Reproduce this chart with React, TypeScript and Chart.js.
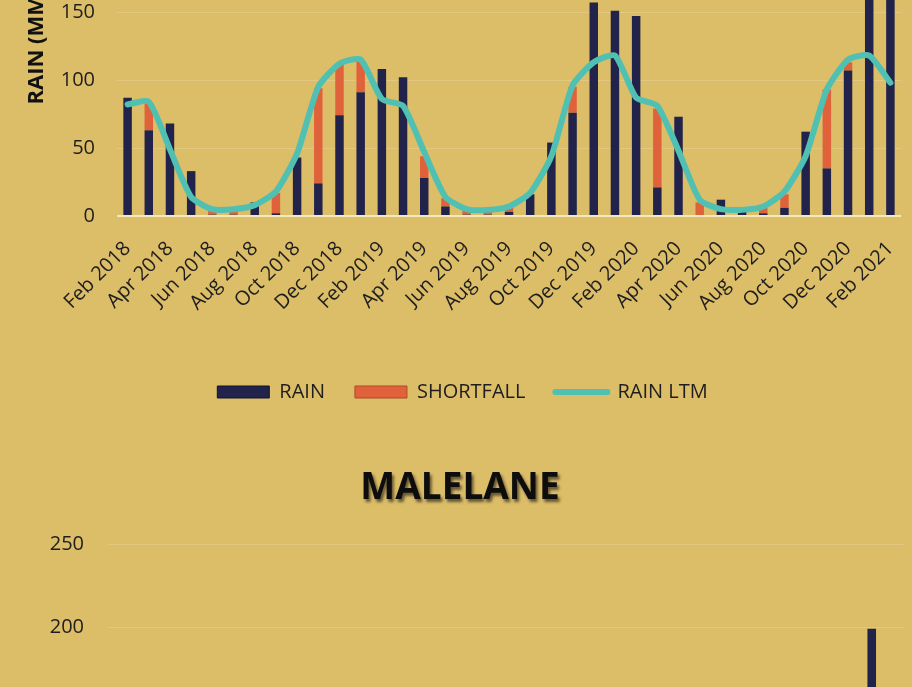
import React, { useEffect, useRef } from 'react';
import { Chart, registerables } from 'chart.js';

Chart.register(...registerables);

// ---------- data ----------
const months = [
  'Feb 2018', 'Mar 2018', 'Apr 2018', 'May 2018', 'Jun 2018', 'Jul 2018', 'Aug 2018', 'Sep 2018', 'Oct 2018', 'Nov 2018', 'Dec 2018',
  'Jan 2019', 'Feb 2019', 'Mar 2019', 'Apr 2019', 'May 2019', 'Jun 2019', 'Jul 2019', 'Aug 2019', 'Sep 2019', 'Oct 2019', 'Nov 2019', 'Dec 2019',
  'Jan 2020', 'Feb 2020', 'Mar 2020', 'Apr 2020', 'May 2020', 'Jun 2020', 'Jul 2020', 'Aug 2020', 'Sep 2020', 'Oct 2020', 'Nov 2020', 'Dec 2020',
  'Jan 2021', 'Feb 2021',
];

const rain = [
  87, 63, 68, 33, 1, 1, 10, 2, 43, 24, 74,
  91, 108, 102, 28, 7, 1, 1, 3, 16, 54, 76, 157,
  151, 147, 21, 73, 0, 12, 3, 2, 6, 62, 35, 107,
  215, 190,
];

const shortfall = [
  0, 20, 0, 0, 3, 3, 0, 15, 0, 70, 38,
  23, 0, 0, 16, 6, 3, 3, 3, 0, 0, 19, 0,
  0, 0, 58, 0, 10, 0, 1, 4, 10, 0, 58, 6,
  0, 0,
];

const rainLtm = [
  82, 84, 49, 14, 5, 5, 8, 18, 46, 95, 112,
  115, 86, 81, 47, 14, 5, 4.5, 7, 17, 44, 96, 113,
  118, 87, 81, 48, 12, 5, 4.5, 7, 18, 44, 93, 115,
  118, 98,
];

// second station: only the January 2021 bar is readable in the visible crop
const malelaneTitle = 'MALELANE';
const malelaneRain = [
  null, null, null, null, null, null, null, null, null, null, null,
  null, null, null, null, null, null, null, null, null, null, null, null,
  null, null, null, null, null, null, null, null, null, null, null, null,
  199, null,
];
const malelaneShortfall = months.map(() => null);
const malelaneLtm = months.map(() => null);

const seriesNames = ['RAIN', 'SHORTFALL', 'RAIN LTM'];
const yAxisTitle = 'RAIN (MM)';

// ---------- styles ----------
const BG = '#dcbd68';
const FONT = '"Open Sans", "DejaVu Sans", sans-serif';
const RAIN_COLOR = '#22234a';
const SHORT_COLOR = '#e0623a';
const LTM_COLOR = '#50c0b3';
const TEXT = '#1e1e1e';

function legendLabels(chart: any) {
  const items = Chart.defaults.plugins.legend.labels.generateLabels(chart);
  items.sort((a: any, b: any) => a.datasetIndex - b.datasetIndex);
  items.forEach((it: any) => {
    const ds: any = chart.data.datasets[it.datasetIndex];
    if (ds.type === 'line') {
      it.pointStyle = 'line';
      it.lineWidth = 6;
      it.strokeStyle = LTM_COLOR;
      it.fillStyle = LTM_COLOR;
      it.lineCap = 'round';
    } else {
      it.pointStyle = 'rect';
      it.lineWidth = 1;
      it.fillStyle = ds.backgroundColor;
      it.strokeStyle = ds.legendBorder;
    }
  });
  return items;
}

const shadowTitle = {
  id: 'shadowTitle',
  afterDraw(chart: any, _args: any, opts: any) {
    if (!opts || !opts.text) return;
    const ctx = chart.ctx;
    ctx.save();
    ctx.font = `bold ${opts.size}px ${FONT}`;
    ctx.textAlign = 'center';
    ctx.textBaseline = 'middle';
    ctx.shadowColor = 'rgba(0,0,0,0.55)';
    ctx.shadowOffsetX = 2;
    ctx.shadowOffsetY = 3;
    ctx.shadowBlur = 3;
    ctx.fillStyle = '#0d0d0d';
    ctx.fillText(opts.text, opts.x, opts.y);
    ctx.restore();
  },
};

function makeConfig(p: {
  rainData: any[]; shortData: any[]; ltmData: any[];
  padTop: number; padLeft: number; padRight: number; padBottom: number;
  yWidth: number; yTickPad: number; xHeight: number; title?: any;
}): any {
  return {
    type: 'bar',
    data: {
      labels: months,
      datasets: [
        {
          type: 'bar', label: seriesNames[0], data: p.rainData, backgroundColor: RAIN_COLOR,
          legendBorder: '#111230', borderWidth: 0, stack: 'rain', order: 1,
          barPercentage: 0.4, categoryPercentage: 1,
        },
        {
          type: 'bar', label: seriesNames[1], data: p.shortData, backgroundColor: SHORT_COLOR,
          legendBorder: '#b0472a', borderWidth: 0, stack: 'rain', order: 2,
          barPercentage: 0.4, categoryPercentage: 1,
        },
        {
          type: 'line', label: seriesNames[2], data: p.ltmData, borderColor: LTM_COLOR,
          backgroundColor: LTM_COLOR, borderWidth: 6, pointRadius: 0, tension: 0.2,
          borderJoinStyle: 'round', borderCapStyle: 'round', stack: 'ltm', order: 0, fill: false,
        },
      ],
    },
    plugins: [shadowTitle],
    options: {
      responsive: false,
      maintainAspectRatio: false,
      animation: false,
      devicePixelRatio: 1,
      layout: { padding: { top: p.padTop, left: p.padLeft, right: p.padRight, bottom: p.padBottom } },
      scales: {
        x: {
          stacked: true,
          grid: { display: false, drawTicks: false },
          border: { display: false },
          afterFit: (s: any) => { s.height = p.xHeight; s.paddingLeft = 0; s.paddingRight = 0; },
          ticks: {
            autoSkip: false,
            minRotation: 45,
            maxRotation: 45,
            padding: 21,
            color: TEXT,
            font: { family: FONT, size: 20 },
            callback: (_v: any, i: number) => (i % 2 === 0 ? months[i] : ''),
          },
        },
        y: {
          stacked: true,
          min: 0,
          max: 250,
          border: { display: false },
          afterFit: (s: any) => { s.width = p.yWidth; s.paddingTop = 0; s.paddingBottom = 0; },
          grid: {
            drawTicks: false,
            color: (c: any) => (c.tick && c.tick.value === 0 ? 'rgba(250,240,205,0.85)' : 'rgba(255,255,255,0.17)'),
            lineWidth: (c: any) => (c.tick && c.tick.value === 0 ? 2 : 1),
          },
          ticks: {
            stepSize: 50,
            padding: p.yTickPad,
            color: TEXT,
            font: { family: FONT, size: 20 },
          },
          title: {
            display: true,
            text: yAxisTitle,
            color: '#111',
            padding: { top: 0, bottom: 0 },
            font: { family: FONT, size: 22, weight: 'bold' },
          },
        },
      },
      plugins: {
        tooltip: { enabled: false },
        shadowTitle: p.title || {},
        legend: {
          position: 'bottom',
          labels: {
            usePointStyle: true,
            pointStyleWidth: 52,
            boxHeight: 12,
            padding: 30,
            color: TEXT,
            font: { family: FONT, size: 20 },
            generateLabels: legendLabels,
          },
        },
      },
    },
  };
}

export default function App() {
  const topRef = useRef<HTMLCanvasElement>(null);
  const botRef = useRef<HTMLCanvasElement>(null);

  useEffect(() => {
    const c1 = new Chart(topRef.current as HTMLCanvasElement, makeConfig({
      rainData: rain, shortData: shortfall, ltmData: rainLtm,
      padTop: 76, padLeft: 24, padRight: 11, padBottom: 28,
      yWidth: 93, yTickPad: 22, xHeight: 136,
    }));
    const c2 = new Chart(botRef.current as HTMLCanvasElement, makeConfig({
      rainData: malelaneRain, shortData: malelaneShortfall, ltmData: malelaneLtm,
      padTop: 104, padLeft: 25, padRight: 8, padBottom: 28,
      yWidth: 83, yTickPad: 24, xHeight: 136,
      title: { text: malelaneTitle, x: 460, y: 48, size: 37 },
    }));
    return () => { c1.destroy(); c2.destroy(); };
  }, []);

  return (
    <div style={{ position: 'fixed', left: 0, top: 0, width: 912, height: 687, overflow: 'hidden', background: BG }}>
      <canvas ref={topRef} width={912} height={640} style={{ position: 'absolute', left: 0, top: -200 }} />
      <canvas ref={botRef} width={912} height={743} style={{ position: 'absolute', left: 0, top: 440 }} />
    </div>
  );
}
